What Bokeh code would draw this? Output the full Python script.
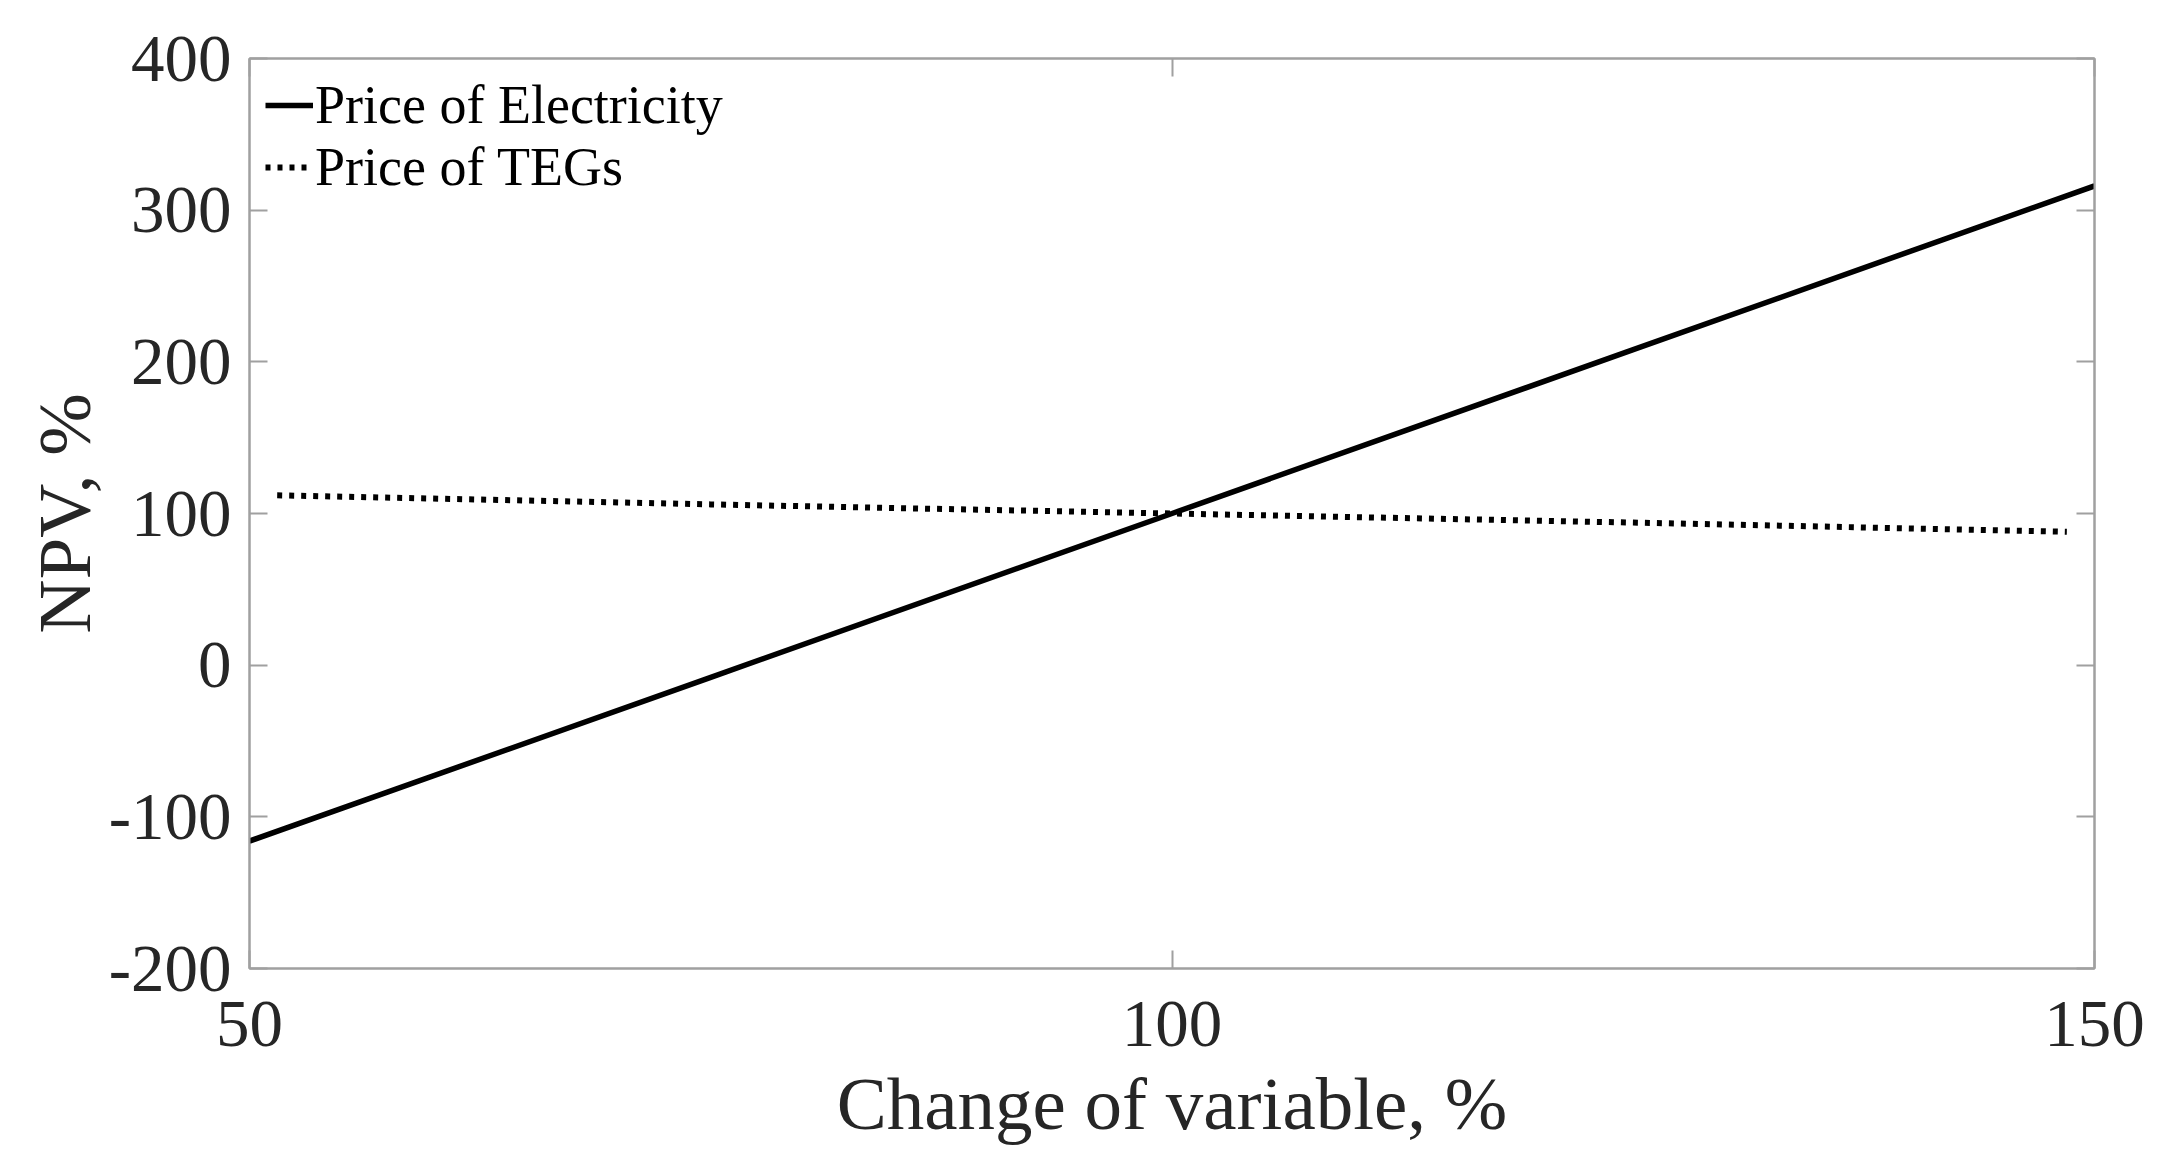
from bokeh.plotting import figure
from bokeh.models import LinearAxis, Legend, LegendItem, FixedTicker, Range1d
from bokeh.embed import file_html
from bokeh.resources import INLINE

# Data
elec_x = [50, 75, 100, 125, 150]
elec_y = [-116, -8, 100, 208, 316]
teg_x = [51.5, 75, 100, 125, 148.5]
teg_y = [112, 106, 100, 94, 88]
x_ticks = [50, 100, 150]
y_ticks = [-200, -100, 0, 100, 200, 300, 400]
y_tick_labels = ["-200", "-100", "0", "100", "200", "300", "400"]
series_names = ["Price of Electricity", "Price of TEGs"]

FONT = "Liberation Serif"
TXT = "#262626"
AX = "#a0a0a0"

p = figure(
    frame_width=1845, frame_height=910,
    x_range=Range1d(50, 150), y_range=Range1d(-200, 400),
    output_backend="svg", toolbar_location=None,
    min_border_left=249, min_border_top=58, min_border_right=60, min_border_bottom=195,
    x_axis_label="Change of variable, %", y_axis_label="NPV, %",
)
p.background_fill_color = "white"
p.border_fill_color = "white"
p.outline_line_color = AX
p.outline_line_width = 2
p.xgrid.visible = False
p.ygrid.visible = False

r1 = p.line(elec_x, elec_y, line_color="black", line_width=5.5)
r2 = p.line(teg_x, teg_y, line_color="black", line_width=6, line_dash="5 7")

def style_axis(ax, ticks, show_labels=True):
    ax.ticker = FixedTicker(ticks=ticks)
    ax.minor_tick_line_color = None
    ax.major_tick_in = 18
    ax.major_tick_out = 0
    ax.major_tick_line_color = AX
    ax.major_tick_line_width = 2
    ax.axis_line_color = AX
    ax.axis_line_width = 2
    ax.major_label_text_font = FONT
    ax.major_label_text_font_size = "67px"
    ax.major_label_text_color = TXT
    ax.axis_label_text_font = FONT
    ax.axis_label_text_font_size = "75px"
    ax.axis_label_text_font_style = "normal"
    ax.axis_label_text_color = TXT
    if not show_labels:
        ax.major_label_overrides = {t: "" for t in ticks}

for ax in p.xaxis:
    style_axis(ax, x_ticks)
    ax.major_label_standoff = 33
    ax.axis_label_standoff = 13
for ax in p.yaxis:
    style_axis(ax, y_ticks)
    ax.major_label_overrides = {t: s for t, s in zip(y_ticks, y_tick_labels)}
    ax.major_label_standoff = 18
    ax.axis_label_standoff = 0

top = LinearAxis()
style_axis(top, x_ticks, show_labels=False)
top.major_label_standoff = 0
p.add_layout(top, "above")
right = LinearAxis()
style_axis(right, y_ticks, show_labels=False)
right.major_label_standoff = 0
p.add_layout(right, "right")

legend = Legend(items=[LegendItem(label=series_names[0], renderers=[r1]),
                       LegendItem(label=series_names[1], renderers=[r2])],
                location="top_left")
legend.label_text_font = FONT
legend.label_text_font_size = "54px"
legend.label_text_color = "black"
legend.border_line_color = None
legend.background_fill_alpha = 0
legend.glyph_width = 48
legend.label_standoff = 2
legend.spacing = 0
legend.padding = 0
legend.margin = 16
p.add_layout(legend)

open("out.html", "w").write(file_html(p, INLINE))
